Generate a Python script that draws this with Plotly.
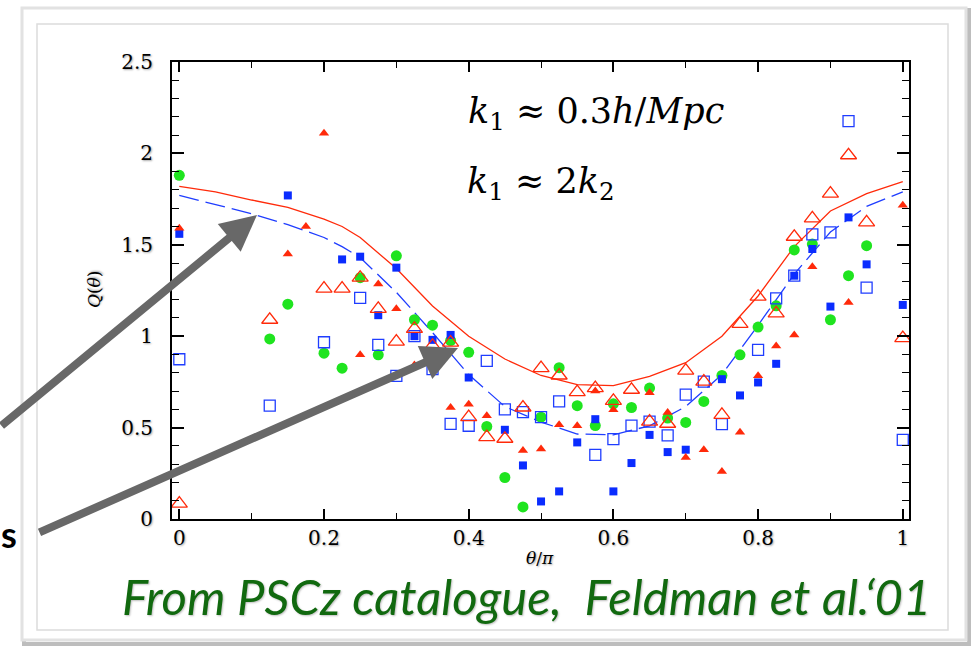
import plotly.graph_objects as go

# ---------------- data ----------------
red_filled_x = [0.0, 0.15, 0.175, 0.2, 0.25, 0.275, 0.3, 0.325, 0.375, 0.4, 0.425, 0.475, 0.5, 0.525, 0.55,
                0.575, 0.6, 0.65, 0.675, 0.7, 0.725, 0.75, 0.775, 0.8, 0.825, 0.85, 0.875, 0.925, 1.0]
red_filled_y = [1.59, 1.45, 1.60, 2.11, 0.898, 1.285, 1.15, 0.843, 0.61, 0.628, 0.565, 0.375, 0.383, 0.515, 0.51,
                0.70, 0.597, 0.69, 0.583, 0.337, 0.379, 0.26, 0.475, 0.783, 0.947, 1.007, 1.38, 1.184, 1.717]

red_open_x = [0.0, 0.125, 0.2, 0.225, 0.25, 0.275, 0.3, 0.325, 0.35, 0.375, 0.4, 0.425, 0.45, 0.475, 0.5,
              0.525, 0.55, 0.575, 0.6, 0.625, 0.65, 0.675, 0.7, 0.725, 0.75, 0.775, 0.8, 0.825, 0.85,
              0.875, 0.9, 0.925, 0.95, 1.0]
red_open_y = [0.084, 1.09, 1.26, 1.26, 1.32, 1.15, 0.97, 1.04, 0.947, 0.965, 0.557, 0.448, 0.439, 0.61, 0.825,
              0.785, 0.694, 0.716, 0.646, 0.707, 0.533, 0.521, 0.812, 0.752, 0.57, 1.067, 1.216, 1.125, 1.544,
              1.645, 1.78, 1.99, 1.623, 0.99]

blue_filled_x = [0.0, 0.15, 0.225, 0.25, 0.275, 0.3, 0.325, 0.35, 0.375, 0.4, 0.45, 0.475, 0.5, 0.525, 0.55,
                 0.575, 0.6, 0.625, 0.65, 0.675, 0.7, 0.75, 0.775, 0.8, 0.825, 0.85, 0.875, 0.9, 0.925, 0.95, 1.0]
blue_filled_y = [1.56, 1.77, 1.42, 1.435, 1.115, 1.375, 1.0, 0.98, 1.007, 0.774, 0.488, 0.293, 0.096, 0.151, 0.419,
                 0.546, 0.151, 0.306, 0.46, 0.366, 0.379, 0.765, 0.676, 0.747, 0.849, 1.331, 1.477, 1.162, 1.65,
                 1.393, 1.171]

blue_open_x = [0.0, 0.125, 0.2, 0.25, 0.275, 0.3, 0.325, 0.35, 0.375, 0.4, 0.425, 0.45, 0.475, 0.5, 0.525,
               0.575, 0.6, 0.625, 0.65, 0.675, 0.7, 0.725, 0.75, 0.8, 0.825, 0.85, 0.875, 0.9, 0.925, 0.95, 1.0]
blue_open_y = [0.874, 0.62, 0.967, 1.21, 0.952, 0.783, 1.0, 0.82, 0.52, 0.51, 0.865, 0.60, 0.585, 0.557, 0.643,
               0.351, 0.437, 0.511, 0.533, 0.457, 0.68, 0.752, 0.519, 0.925, 1.207, 1.331, 1.557, 1.568, 2.177,
               1.266, 0.433]

green_x = [0.0, 0.125, 0.15, 0.2, 0.225, 0.25, 0.275, 0.3, 0.325, 0.35, 0.375, 0.4, 0.425, 0.45, 0.475, 0.5,
           0.525, 0.55, 0.575, 0.6, 0.625, 0.65, 0.675, 0.7, 0.725, 0.75, 0.775, 0.8, 0.825, 0.85, 0.875,
           0.9, 0.925, 0.95]
green_y = [1.88, 0.985, 1.175, 0.907, 0.825, 1.32, 0.898, 1.44, 1.09, 1.06, 0.976, 0.912, 0.506, 0.227, 0.066,
           0.557, 0.828, 0.62, 0.511, 0.63, 0.61, 0.716, 0.552, 0.528, 0.643, 0.785, 0.898, 1.05, 1.166, 1.472,
           1.504, 1.09, 1.331, 1.495]

curve_x = [0.0, 0.05, 0.1, 0.15, 0.2, 0.225, 0.25, 0.3, 0.35, 0.4, 0.45, 0.5, 0.55, 0.6, 0.65, 0.7, 0.75,
           0.8, 0.85, 0.9, 0.95, 1.0]
red_curve_y = [1.82, 1.79, 1.745, 1.705, 1.64, 1.60, 1.54, 1.37, 1.165, 1.0, 0.875, 0.785, 0.735, 0.73, 0.78,
               0.855, 1.0, 1.22, 1.49, 1.685, 1.78, 1.845]
blue_curve_y = [1.77, 1.72, 1.67, 1.61, 1.54, 1.49, 1.43, 1.24, 1.02, 0.79, 0.615, 0.53, 0.465, 0.46, 0.51,
                0.615, 0.79, 1.06, 1.34, 1.57, 1.71, 1.79]

x_ticks = [0, 0.2, 0.4, 0.6, 0.8, 1]
x_tick_text = ["0", "0.2", "0.4", "0.6", "0.8", "1"]
y_ticks = [0, 0.5, 1, 1.5, 2, 2.5]
y_tick_text = ["0", "0.5", "1", "1.5", "2", "2.5"]

# ---------------- layout helpers ----------------
W, H = 977, 648
L, R, T, B = 172, 909, 62, 519


def px(x):
    return (x - L) / (R - L)


def py(y):
    return (B - y) / (B - T)


RED = "#ff2a0a"
BLUE = "#1f3dff"
GREEN = "#1fe41f"
SERIF = "DejaVu Serif, serif"

fig = go.Figure()

fig.add_trace(go.Scatter(x=curve_x, y=red_curve_y, mode="lines",
                         line=dict(color=RED, width=1.3)))
fig.add_trace(go.Scatter(x=curve_x, y=blue_curve_y, mode="lines",
                         line=dict(color=BLUE, width=1.3, dash="20px,7px")))

fig.add_trace(go.Scatter(x=green_x, y=green_y, mode="markers",
                         marker=dict(symbol="circle", size=11, color=GREEN, line=dict(width=0))))
fig.add_trace(go.Scatter(x=blue_filled_x, y=blue_filled_y, mode="markers",
                         marker=dict(symbol="square", size=8, color="#0a2cff", line=dict(width=0))))
fig.add_trace(go.Scatter(x=red_filled_x, y=red_filled_y, mode="markers",
                         marker=dict(symbol="triangle-up", size=9, color=RED, line=dict(width=0))))
fig.add_trace(go.Scatter(x=blue_open_x, y=blue_open_y, mode="markers",
                         marker=dict(symbol="square-open", size=11, color=BLUE, line=dict(width=1.3))))
fig.add_trace(go.Scatter(x=red_open_x, y=red_open_y, mode="markers",
                         marker=dict(symbol="triangle-up-open", size=14, color=RED, line=dict(width=1.3))))

tick_font = dict(family=SERIF, size=20, color="black",
                 shadow="1px 1px 2px rgba(0,0,0,0.35)")

fig.update_xaxes(range=[-0.0101, 1.0086], tickvals=x_ticks, ticktext=x_tick_text,
                 ticks="inside", ticklen=10, tickwidth=1.6, tickcolor="black",
                 showline=True, linecolor="black", linewidth=2, mirror="allticks",
                 showgrid=False, zeroline=False, tickfont=tick_font, ticklabelstandoff=0,
                 minor=dict(dtick=0.1, ticks="inside", ticklen=6, tickwidth=1.4, tickcolor="black",
                            showgrid=False))
fig.update_yaxes(range=[0, 2.5], tickvals=y_ticks, ticktext=y_tick_text,
                 ticks="inside", ticklen=12, tickwidth=1.6, tickcolor="black",
                 showline=True, linecolor="black", linewidth=2, mirror="allticks",
                 showgrid=False, zeroline=False, tickfont=tick_font, ticklabelstandoff=13,
                 minor=dict(dtick=0.1, ticks="inside", ticklen=7, tickwidth=1.4, tickcolor="black",
                            showgrid=False))

shapes = [
    # outer slide frame with shadow
    dict(type="rect", xref="paper", yref="paper", x0=px(24), x1=px(969), y0=py(644), y1=py(10),
         line=dict(color="#bdbdbd", width=4), fillcolor="white", layer="below"),
    dict(type="rect", xref="paper", yref="paper", x0=px(22), x1=px(966), y0=py(640), y1=py(8),
         line=dict(color="#e2e2e2", width=3), fillcolor="white", layer="below"),
    # inner panel
    dict(type="rect", xref="paper", yref="paper", x0=px(37), x1=px(948), y0=py(630), y1=py(24),
         line=dict(color="#dcdcdc", width=1.5), fillcolor="white", layer="below"),
]

annotations = [
    dict(xref="paper", yref="paper", x=px(466), y=py(114), xanchor="left", yanchor="middle",
         text="<i>k</i><sub>1</sub> ≈ 0.3<i>h</i>/<i>Mpc</i>", showarrow=False,
         font=dict(family=SERIF, size=35, color="black")),
    dict(xref="paper", yref="paper", x=px(465), y=py(183), xanchor="left", yanchor="middle",
         text="<i>k</i><sub>1</sub> ≈ 2<i>k</i><sub>2</sub>", showarrow=False,
         font=dict(family=SERIF, size=35, color="black")),
    dict(xref="paper", yref="paper", x=px(540), y=py(558), xanchor="center", yanchor="middle",
         text="<i>θ</i>/<i>π</i>", showarrow=False,
         font=dict(family=SERIF, size=17, color="black", shadow="1px 1px 2px rgba(0,0,0,0.35)")),
    dict(xref="paper", yref="paper", x=px(94), y=py(290), xanchor="center", yanchor="middle",
         text="<i>Q</i>(<i>θ</i>)", showarrow=False, textangle=-90,
         font=dict(family=SERIF, size=17, color="black", shadow="1px 1px 2px rgba(0,0,0,0.35)")),
    dict(xref="paper", yref="paper", x=px(526), y=py(596), xanchor="center", yanchor="middle",
         text="<i>From PSCz catalogue,  Feldman et al.‘01</i>", showarrow=False,
         font=dict(family="Lato", size=49, color="#11690f", shadow="1px 1px 2px rgba(0,0,0,0.25)")),
    dict(xref="paper", yref="paper", x=px(-1), y=py(534), xanchor="left", yanchor="middle",
         text="<b>s</b>", showarrow=False,
         font=dict(family="Lato", size=36, color="black")),
    # arrows
    dict(xref="paper", yref="paper", x=px(257), y=py(215), ax=-262, ay=212, axref="pixel", ayref="pixel",
         text="", showarrow=True, arrowhead=2, arrowsize=0.9, arrowwidth=8, arrowcolor="#686868"),
    dict(xref="paper", yref="paper", x=px(458), y=py(348), ax=-420, ay=185, axref="pixel", ayref="pixel",
         text="", showarrow=True, arrowhead=2, arrowsize=0.9, arrowwidth=8, arrowcolor="#686868"),
]

fig.update_layout(
    width=W, height=H,
    margin=dict(l=L, r=W - R, t=T, b=H - B),
    paper_bgcolor="white", plot_bgcolor="white",
    showlegend=False,
    shapes=shapes,
    annotations=annotations,
)

fig.write_html("out.html", config={"displayModeBar": False},
               post_script="document.body.style.margin='0';document.body.style.overflow='hidden';")
